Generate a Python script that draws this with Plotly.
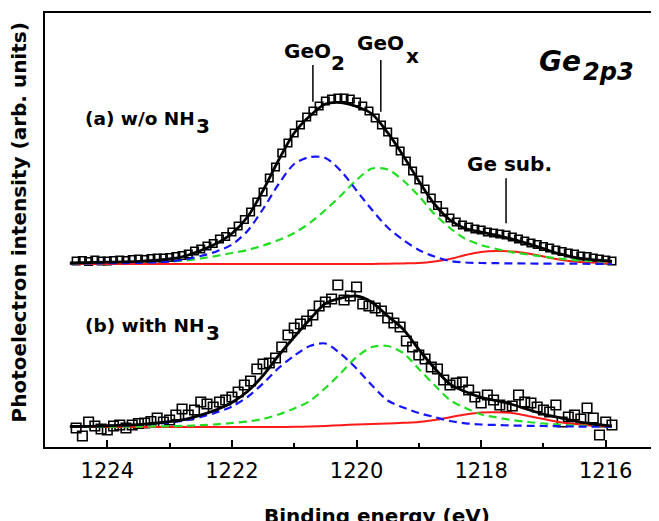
import plotly.graph_objects as go

# ---------------- data (binding energy in eV, intensity in arb. units) ----------------
GRID = [1224.6, 1224.0, 1223.5, 1223.0, 1222.75, 1222.5, 1222.25, 1222.0, 1221.75, 1221.5,
        1221.25, 1221.0, 1220.75, 1220.5, 1220.25, 1220.0, 1219.75, 1219.5, 1219.25, 1219.0,
        1218.75, 1218.5, 1218.25, 1218.0, 1217.75, 1217.5, 1217.25, 1217.0, 1216.75, 1216.5,
        1216.25, 1216.0, 1215.9]

# (a) w/o NH3 fitted components
GEO2_A = [0.5, 0.8, 1.2, 2.5, 4.5, 8, 12.5, 19.5, 33, 55,
          80, 100, 107, 106, 93, 73.5, 54, 36.5, 24, 14,
          7.5, 3, 1.5, 1, 0.8, 0.6, 0.5, 0.4, 0.3, 0.3,
          0.2, 0.2, 0.2]
GEOX_A = [0.5, 1, 1.5, 2.5, 3.5, 5.5, 8, 11, 14, 18.5,
          24, 31, 41, 54, 68.5, 84, 95.5, 94.5, 83.5, 68,
          50, 36, 25, 19, 15, 11.7, 9.5, 7.4, 5.5, 3.9,
          3, 2.3, 2]
GESUB_A = [0, 0, 0, 0, 0, 0, 0, 0, 0, 0,
           0, 0, 0, 0, 0, 0, 0.1, 0.3, 0.6, 1,
           2.5, 5, 9, 12, 13, 12.5, 10.5, 7.5, 4.5, 2.5,
           1.5, 0.8, 0.5]
FIT_A = [1, 1.8, 2.7, 5, 8, 13.5, 20.5, 30.5, 47, 73.5,
         104, 131, 148, 160, 161.5, 157.5, 150, 131.3, 108.3, 83,
         60, 44, 35.5, 32, 28.8, 24.8, 20.3, 15.3, 10.3, 6.7,
         4.7, 3.3, 2.7]

# (b) with NH3 fitted components
GEO2_B = [0.5, 1, 2, 4.5, 6.5, 10, 14.5, 20.5, 30, 43.5,
          59, 71.3, 81, 83.5, 73, 58.5, 41.5, 26.5, 19.5, 14,
          10, 6, 3.7, 2.5, 2, 1.5, 1.2, 1, 0.8, 0.5,
          0.4, 0.3, 0.3]
GEOX_B = [0, 0.2, 0.4, 0.8, 1.2, 1.8, 2.7, 4, 5.5, 8,
          12.5, 18.5, 26, 39, 54, 70, 80, 81, 74, 58,
          42, 27, 19, 12.5, 9.5, 7, 5, 3.5, 2.5, 1.5,
          1, 0.5, 0.4]
GESUB_B = [0, 0, 0, 0, 0, 0, 0, 0, 0, 0,
           0, 0.2, 0.5, 1, 1.8, 2.5, 3, 3.5, 4.2, 5,
           7, 9.8, 12.5, 14.5, 14.8, 14, 11, 8, 5, 3,
           1.5, 0.6, 0.3]
FIT_B = [0.5, 1.2, 2.4, 5.3, 7.7, 11.8, 17.2, 24.5, 35.5, 51.5,
         71.5, 90, 107.5, 123.5, 128.8, 131, 124.5, 111, 97.7, 77.5,
         59, 42.8, 35.2, 29.6, 26.3, 22.5, 17.5, 13, 9.5, 6,
         3.5, 1.6, 1]

# measured points
E_DATA = [1224.5, 1224.4, 1224.3, 1224.2, 1224.1, 1224.0, 1223.9, 1223.8, 1223.7, 1223.6,
          1223.5, 1223.4, 1223.3, 1223.2, 1223.1, 1223.0, 1222.9, 1222.8, 1222.7, 1222.6,
          1222.5, 1222.4, 1222.3, 1222.2, 1222.1, 1222.0, 1221.9, 1221.8, 1221.7, 1221.6,
          1221.5, 1221.4, 1221.3, 1221.2, 1221.1, 1221.0, 1220.9, 1220.8, 1220.7, 1220.6,
          1220.5, 1220.4, 1220.3, 1220.2, 1220.1, 1220.0, 1219.9, 1219.8, 1219.7, 1219.6,
          1219.5, 1219.4, 1219.3, 1219.2, 1219.1, 1219.0, 1218.9, 1218.8, 1218.7, 1218.6,
          1218.5, 1218.4, 1218.3, 1218.2, 1218.1, 1218.0, 1217.9, 1217.8, 1217.7, 1217.6,
          1217.5, 1217.4, 1217.3, 1217.2, 1217.1, 1217.0, 1216.9, 1216.8, 1216.7, 1216.6,
          1216.5, 1216.4, 1216.3, 1216.2, 1216.1, 1216.0, 1215.9]
DATA_A = [3, 3.5, 2.5, 4, 3, 3, 3.5, 4, 3.5, 4.5,
          5, 4.5, 5.5, 6, 6, 6.5, 7.5, 8.5, 10, 13,
          15, 18, 20.5, 25, 27.5, 32, 38, 44.5, 52, 62,
          72, 86, 97, 111, 121, 131, 139, 147, 153, 158,
          163, 165, 166, 166, 165, 162, 158, 153, 146, 139,
          132, 122, 113, 103, 93, 84, 75, 66, 58.5, 52,
          46, 42, 39, 37, 35, 34, 32, 31, 30, 29,
          27, 25, 23, 21, 19.5, 17.5, 16, 14, 12.5, 11,
          10, 8, 7.5, 6, 5, 4, 3]
DATA_B = [-1, -9, 5, 1, -2, -3, 1, 2, -1, 2,
          3.5, 4, 5.5, 9, 5, 7, 12, 18, 12, 17,
          25, 23, 20, 25, 27, 30, 35, 42, 46, 58,
          63, 64, 69, 80, 92, 99, 103, 106, 112, 121,
          125, 128, 142, 127, 131, 140, 123, 121, 119, 116,
          109, 104, 100, 86, 80, 72, 68, 60, 58, 47,
          42, 44, 45, 37, 30, 24, 32, 27, 22, 20,
          21, 32, 25, 24, 20, 17, 15, 22, 5, 10,
          12, 8, 19, 9, -8, 5, 2]

OFFSET_A = 183   # vertical stacking offset of spectrum (a)
OFFSET_B = 20    # vertical stacking offset of spectrum (b)

# ---------------- figure ----------------
FONT = "DejaVu Sans"
BLUE = "#1414ff"
GREEN = "#22dd22"
RED = "#ff1a1a"
DASH = "8px,5px"


def up(vals, off):
    return [v + off for v in vals]


fig = go.Figure()

for data, geo2, geox, gesub, fit, off, msize in [
    (DATA_A, GEO2_A, GEOX_A, GESUB_A, FIT_A, OFFSET_A, 7.5),
    (DATA_B, GEO2_B, GEOX_B, GESUB_B, FIT_B, OFFSET_B, 9.5),
]:
    fig.add_trace(go.Scatter(x=E_DATA, y=up(data, off), mode="markers",
                             marker=dict(symbol="square-open", size=msize, color="black",
                                         line=dict(width=1.6, color="black")),
                             showlegend=False))
    fig.add_trace(go.Scatter(x=GRID, y=up(gesub, off), mode="lines",
                             line=dict(color=RED, width=2, shape="spline", smoothing=0.8),
                             showlegend=False))
    fig.add_trace(go.Scatter(x=GRID, y=up(geox, off), mode="lines",
                             line=dict(color=GREEN, width=2.2, dash=DASH, shape="spline", smoothing=0.8),
                             showlegend=False))
    fig.add_trace(go.Scatter(x=GRID, y=up(geo2, off), mode="lines",
                             line=dict(color=BLUE, width=2.2, dash=DASH, shape="spline", smoothing=0.8),
                             showlegend=False))
    fig.add_trace(go.Scatter(x=GRID, y=up(fit, off), mode="lines",
                             line=dict(color="black", width=2.8, shape="spline", smoothing=0.8),
                             showlegend=False))


def label(text, x, y, size, anchor="center", italic=False):
    t = f"<b>{text}</b>"
    if italic:
        t = f"<i>{t}</i>"
    fig.add_annotation(x=x, y=y, xref="x", yref="y", text=t, showarrow=False,
                       xanchor=anchor, yanchor="middle",
                       font=dict(family=FONT, size=size, color="black"))


label("(a) w/o NH", 1224.388, 328.7, 18.5, anchor="left")
label("3", 1222.47, 321.5, 20)
label("(b) with NH", 1224.398, 122, 18.5, anchor="left")
label("3", 1222.31, 114.5, 20)
label("GeO", 1220.790, 396.2, 20)
label("2", 1220.295, 383.7, 20)
label("GeO", 1219.613, 404.5, 20)
label("x", 1219.104, 391, 20)
label("Ge sub.", 1217.539, 282.8, 20)
label("Ge", 1216.729, 385.3, 28, italic=True)
label("2p3", 1215.950, 375.2, 24, italic=True)

# leader lines from peak labels to the spectrum
for xe, y0, y1 in [(1220.70, 382, 345.3), (1219.61, 387, 335.3), (1217.60, 268.7, 223.7)]:
    fig.add_shape(type="line", xref="x", yref="y", x0=xe, x1=xe, y0=y0, y1=y1,
                  line=dict(color="black", width=1.5))

# axis titles
fig.add_annotation(text="<b>Photoelectron intensity (arb. units)</b>", textangle=-90,
                   xref="paper", yref="paper", x=-0.042, y=0.518,
                   xanchor="center", yanchor="middle", showarrow=False,
                   font=dict(family=FONT, size=20, color="black"))
fig.add_annotation(text="<b>Binding energy (eV)</b>", xref="x", yref="paper",
                   x=1219.67, y=-0.1597, xanchor="center", yanchor="middle", showarrow=False,
                   font=dict(family=FONT, size=20, color="black"))

fig.update_xaxes(range=[1225.0, 1215.145], tickvals=[1224, 1222, 1220, 1218, 1216],
                 ticks="inside", ticklen=7, tickwidth=1.5, tickcolor="black",
                 minor=dict(tickvals=[1223, 1221, 1219, 1217, 1215], ticks="inside",
                            ticklen=4, tickwidth=1.5, tickcolor="black"),
                 showline=True, linewidth=2, linecolor="black", mirror=True,
                 showgrid=False, zeroline=False, automargin=False,
                 tickfont=dict(family=FONT, size=21, color="black"),
                 ticklabelstandoff=4)
fig.update_yaxes(range=[0, 434], showticklabels=False, ticks="",
                 showline=True, linewidth=1.5, linecolor="black", mirror=False,
                 showgrid=False, zeroline=False, automargin=False)

# the page adds an 8 px body margin, so the figure is offset by it
fig.update_layout(width=651, height=513, margin=dict(l=37, r=0, t=5, b=74),
                  plot_bgcolor="white", paper_bgcolor="white", showlegend=False)

fig.write_html("out.html")
